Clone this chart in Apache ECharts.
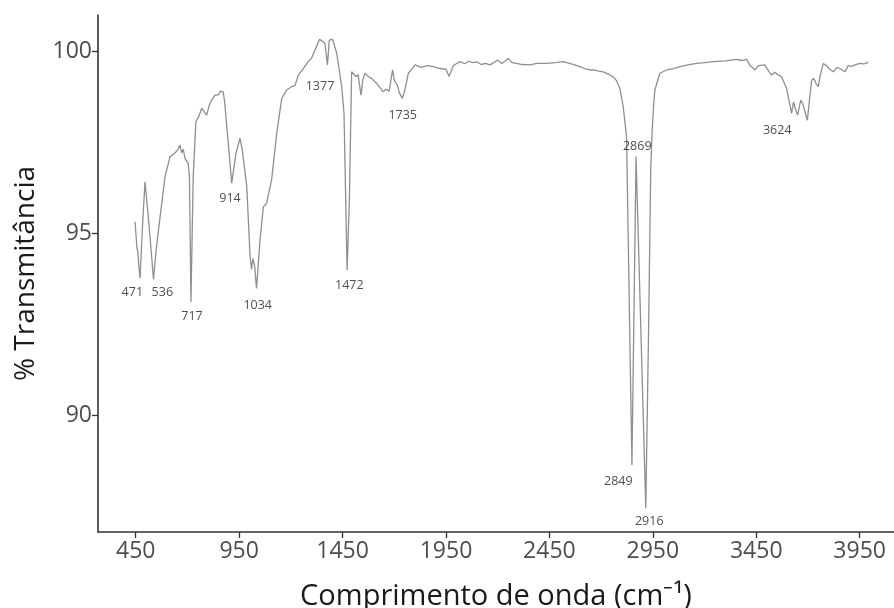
<!DOCTYPE html>
<html>
<head>
<meta charset="utf-8">
<script src="https://cdn.jsdelivr.net/npm/echarts@6/dist/echarts.min.js"></script>
<style>html,body{margin:0;padding:0;background:#fff;}#c{width:894px;height:608px;}</style>
</head>
<body>
<div id="c"></div>
<script>
// Wavenumber (cm^-1)
const wavenumber = [447,452,456,460,465,471,483,495,510,525,536,550,567,592,616,640,655,664,672,680,688,704,710,717,728,741,755,769,793,805,817,833,850,860,873,880,900,914,935,954,965,987,1003,1010,1016,1025,1034,1051,1067,1083,1107,1132,1156,1180,1204,1220,1236,1260,1284,1300,1317,1338,1357,1365,1377,1386,1402,1422,1446,1457,1472,1483,1494,1502,1515,1525,1539,1548,1558,1575,1590,1615,1630,1647,1660,1675,1692,1700,1715,1725,1739,1750,1768,1785,1800,1830,1860,1889,1920,1950,1965,1974,1985,2000,2018,2040,2060,2080,2100,2120,2140,2163,2185,2200,2220,2235,2251,2270,2290,2320,2356,2390,2437,2480,2517,2560,2598,2620,2646,2662,2690,2710,2740,2759,2775,2791,2807,2823,2849,2869,2916,2930,2940,2947,2955,2960,2984,3017,3050,3081,3120,3162,3200,3242,3300,3355,3380,3404,3420,3432,3444,3460,3492,3510,3524,3540,3555,3573,3597,3610,3621,3630,3640,3650,3665,3675,3697,3710,3718,3728,3740,3750,3760,3774,3790,3805,3823,3840,3860,3879,3895,3910,3928,3950,3970,3991];
// % Transmittance
const transmittance = [95.31,94.9,94.59,94.5,94.1,93.76,95.2,96.41,95.5,94.5,93.73,94.6,95.41,96.55,97.1,97.2,97.3,97.42,97.2,97.3,97.05,96.91,96.5,93.11,96.55,98.06,98.2,98.43,98.24,98.5,98.65,98.79,98.8,98.9,98.88,98.6,97.3,96.37,97.2,97.6,97.3,96.27,94.35,94.0,94.3,94.1,93.48,94.81,95.72,95.82,96.46,97.75,98.70,98.93,99.02,99.05,99.34,99.52,99.71,99.8,100.03,100.32,100.26,100.2,99.62,100.30,100.32,99.94,99.02,98.3,93.98,95.91,99.43,99.48,99.3,99.35,98.79,99.2,99.39,99.3,99.25,99.11,99.0,98.88,98.95,98.9,99.48,99.2,99.05,98.85,98.70,98.9,99.39,99.5,99.62,99.55,99.6,99.57,99.52,99.5,99.3,99.34,99.6,99.65,99.71,99.65,99.72,99.68,99.7,99.63,99.66,99.62,99.7,99.75,99.66,99.72,99.80,99.68,99.66,99.63,99.62,99.66,99.66,99.68,99.71,99.64,99.57,99.52,99.48,99.48,99.45,99.43,99.35,99.29,99.18,98.97,98.47,97.65,88.63,97.10,87.44,92.5,96.8,97.83,98.6,98.93,99.39,99.48,99.52,99.57,99.62,99.66,99.68,99.71,99.73,99.77,99.74,99.77,99.6,99.55,99.48,99.6,99.62,99.45,99.34,99.42,99.35,99.29,98.97,98.6,98.29,98.6,98.4,98.24,98.65,98.55,98.10,98.8,99.20,99.25,99.1,99.02,99.35,99.66,99.6,99.5,99.43,99.55,99.5,99.43,99.6,99.58,99.62,99.66,99.65,99.69];
// Peak annotations
const peakText = ["471","536","717","914","1034","1377","1472","1735","2849","2869","2916","3624"];
const peakLabelX = [433.6,578.6,722,905.9,1039.8,1341,1482.6,1740.7,2783,2874.8,2932.8,3551.6];
const peakLabelY = [93.36,93.36,92.70,95.95,93.0,99.02,93.57,98.24,88.17,97.39,87.07,97.83];
// Axis ticks
const xTicks = [450,950,1450,1950,2450,2950,3450,3950];
const yTicks = [90,95,100];

const chart = echarts.init(document.getElementById('c'), null, {renderer:'canvas'});
const font = 'Open Sans';
chart.setOption({
  animation:false,
  backgroundColor:'#ffffff',
  grid:{left:98, right:0, top:15, bottom:76, containLabel:false, outerBoundsMode:'none'},
  xAxis:{
    type:'value', min:267.7, max:4116,
    name:'Comprimento de onda (cm\u207B\u00B9)', nameLocation:'middle', nameGap:50,
    nameTextStyle:{fontFamily:font, fontSize:29, color:'#1a1a1a'},
    axisLine:{show:true, onZero:false, lineStyle:{color:'#333', width:1.6}},
    axisTick:{show:true, length:6, customValues:xTicks, lineStyle:{color:'#333', width:1.3}},
    axisLabel:{customValues:xTicks, formatter:v=>String(v), fontFamily:font, fontSize:23, color:'#4d4d4d', margin:8},
    splitLine:{show:false}
  },
  yAxis:{
    type:'value', min:86.79, max:100.99,
    name:'% Transmitância', nameLocation:'middle', nameGap:58, nameRotate:90,
    nameTextStyle:{fontFamily:font, fontSize:28, color:'#1a1a1a'},
    axisLine:{show:true, onZero:false, lineStyle:{color:'#333', width:1.6}},
    axisTick:{show:true, length:6, customValues:yTicks, lineStyle:{color:'#333', width:1.3}},
    axisLabel:{customValues:yTicks, formatter:v=>String(v), fontFamily:font, fontSize:23, color:'#4d4d4d', margin:6},
    splitLine:{show:false}
  },
  series:[
    {
      type:'line', showSymbol:false, symbol:'none',
      data: wavenumber.map((w,i)=>[w, transmittance[i]]),
      lineStyle:{color:'#8f8f8f', width:1.3},
      z:2
    },
    {
      type:'scatter', symbolSize:0,
      data: peakText.map((t,i)=>({value:[peakLabelX[i], peakLabelY[i]], name:t})),
      label:{show:true, position:'inside', formatter:p=>p.name, fontFamily:font, fontSize:12.5, color:'#222'},
      z:3
    }
  ]
});
</script>
</body>
</html>
